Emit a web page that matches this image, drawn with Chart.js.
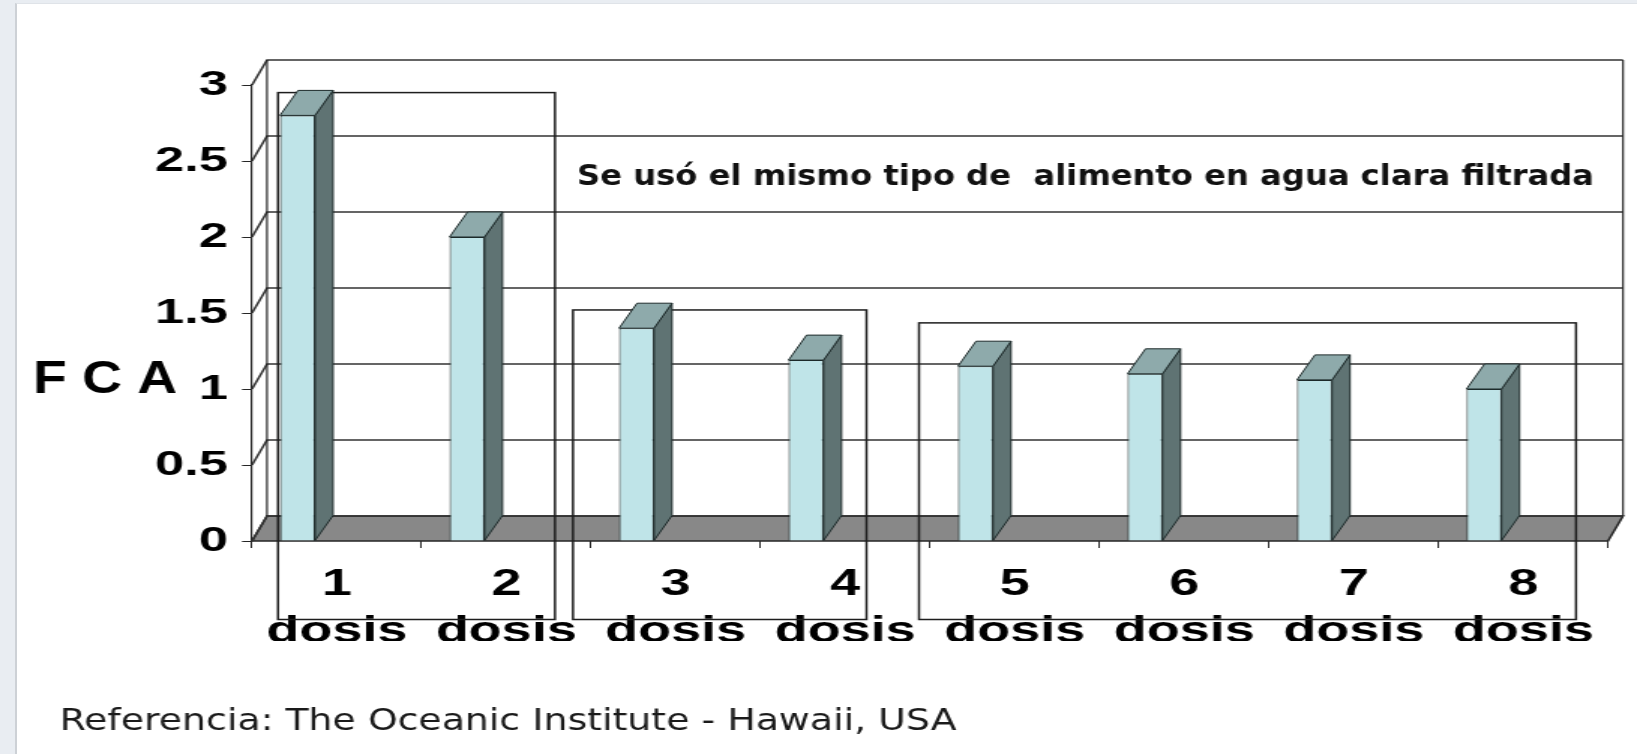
<!DOCTYPE html>
<html>
<head>
<meta charset="utf-8">
<script src="https://cdn.jsdelivr.net/npm/chart.js@4/dist/chart.umd.min.js"></script>
<style>
  html, body { margin:0; padding:0; }
  body { width:1637px; height:754px; overflow:hidden; background:#e9edf2; position:relative; }
  #panel { position:absolute; left:15px; top:3px; width:1622px; height:751px; background:#ffffff;
           border-left:2px solid #cdd1d6; border-top:1px solid #dfe3e8; box-sizing:border-box; }
  #wrap { position:absolute; left:0; top:0; width:1091px; height:754px;
          transform:scaleX(1.5004583); transform-origin:0 0; }
  #c { display:block; }
</style>
</head>
<body>
<div id="panel"></div>
<div id="wrap"><canvas id="c" width="1091" height="754"></canvas></div>
<script>
// ---- data ----
const categories = ['1', '2', '3', '4', '5', '6', '7', '8'];
const categoryUnit = 'dosis';
const fcaValues = [2.8, 2.0, 1.4, 1.19, 1.15, 1.1, 1.06, 1.0];
const yTickLabels = ['0', '0.5', '1', '1.5', '2', '2.5', '3'];
const yAxisTitle = 'F C A';
const noteText = 'Se usó el mismo tipo de  alimento en agua clara filtrada';
const sourceText = 'Referencia: The Oceanic Institute - Hawaii, USA';
// groups of doses framed in the picture
const groupFirst = [0, 2, 4];
const groupLast = [1, 3, 7];
const groupTop = [2.95, 1.52, 1.435];

// ---- geometry helpers (canvas is stretched horizontally by K) ----
const K = 1637 / 1091;
const WALL_DX = 15 / K, WALL_DY = -25;
const BAR_DX = 18 / K, BAR_DY = -25;
const LINE = '#262626';

function fitText(ctx, text, font, leftFull, baseline, widthFull, color) {
  ctx.save();
  ctx.font = font;
  const w = ctx.measureText(text).width;
  const s = widthFull / w;
  ctx.translate(leftFull / K, baseline);
  ctx.scale(s / K, 1);
  ctx.textAlign = 'left';
  ctx.textBaseline = 'alphabetic';
  ctx.fillStyle = color;
  ctx.fillText(text, 0, 0);
  ctx.restore();
}

const threeD = {
  id: 'threeD',
  beforeDatasetsDraw(chart) {
    const { ctx, chartArea: a, scales: { x, y } } = chart;
    ctx.save();
    // floor slab
    ctx.beginPath();
    ctx.moveTo(a.left, a.bottom);
    ctx.lineTo(a.right, a.bottom);
    ctx.lineTo(a.right + WALL_DX, a.bottom + WALL_DY);
    ctx.lineTo(a.left + WALL_DX, a.bottom + WALL_DY);
    ctx.closePath();
    ctx.fillStyle = '#888888';
    ctx.fill();
    ctx.strokeStyle = LINE;
    ctx.lineWidth = 1.6;
    ctx.stroke();
    // gridlines on side and back wall
    ctx.strokeStyle = '#333333';
    ctx.lineWidth = 1.6;
    y.ticks.forEach(t => {
      const py = y.getPixelForValue(t.value);
      ctx.beginPath();
      ctx.moveTo(a.left, py);
      ctx.lineTo(a.left + WALL_DX, py + WALL_DY);
      ctx.lineTo(a.right + WALL_DX, py + WALL_DY);
      ctx.stroke();
    });
    // back verticals
    const yt = y.getPixelForValue(y.max) + WALL_DY;
    const yb = a.bottom + WALL_DY;
    ctx.strokeStyle = LINE;
    ctx.lineWidth = 1.2;
    [a.left + WALL_DX, a.right + WALL_DX].forEach(px => {
      ctx.beginPath(); ctx.moveTo(px, yt); ctx.lineTo(px, yb); ctx.stroke();
    });
    // group frames (behind the bars)
    const padL = [58.75, 102.75, 95.75];
    const padR = [48.75, 21.25, 52.75];
    ctx.strokeStyle = '#1e1e1e';
    ctx.lineWidth = 1.5;
    for (let g = 0; g < groupFirst.length; g++) {
      const l = x.getPixelForValue(groupFirst[g]) - padL[g] / K;
      const r = x.getPixelForValue(groupLast[g]) + padR[g] / K;
      const t = y.getPixelForValue(groupTop[g]);
      const b = a.bottom + 78.5;
      ctx.strokeRect(l, t, r - l, b - t);
    }
    ctx.restore();
  },
  afterDatasetsDraw(chart) {
    const { ctx } = chart;
    const meta = chart.getDatasetMeta(0);
    ctx.save();
    ctx.strokeStyle = '#1d2a2a';
    ctx.lineWidth = 1;
    meta.data.forEach(el => {
      const p = el.getProps(['x', 'y', 'base', 'width'], true);
      const xl = p.x - p.width / 2, xr = p.x + p.width / 2;
      // side face
      ctx.beginPath();
      ctx.moveTo(xr, p.y);
      ctx.lineTo(xr + BAR_DX, p.y + BAR_DY);
      ctx.lineTo(xr + BAR_DX, p.base + BAR_DY);
      ctx.lineTo(xr, p.base);
      ctx.closePath();
      ctx.fillStyle = '#5f7373';
      ctx.fill(); ctx.stroke();
      // top face
      ctx.beginPath();
      ctx.moveTo(xl, p.y);
      ctx.lineTo(xr, p.y);
      ctx.lineTo(xr + BAR_DX, p.y + BAR_DY);
      ctx.lineTo(xl + BAR_DX, p.y + BAR_DY);
      ctx.closePath();
      ctx.fillStyle = '#8eaaab';
      ctx.fill(); ctx.stroke();
    });
    ctx.restore();
  },
  afterDraw(chart) {
    const { ctx } = chart;
    fitText(ctx, yAxisTitle, 'bold 46px "Liberation Sans", Arial, sans-serif', 33, 393, 144, '#000');
    fitText(ctx, noteText, 'bold 29px "DejaVu Sans", sans-serif', 577, 185, 1017, '#111');
    fitText(ctx, sourceText, '31px "DejaVu Sans", sans-serif', 59.5, 730, 897, '#1a1a1a');
  }
};

const chartAreaLeft = 252 / K;
const chartAreaRight = 1608 / K;

new Chart(document.getElementById('c'), {
  type: 'bar',
  data: {
    labels: categories.map(c => [c, categoryUnit]),
    datasets: [
      {
        label: 'FCA',
        data: fcaValues,
        backgroundColor: '#bfe4e8',
        borderColor: '#1d2a2a',
        borderWidth: 1,
        categoryPercentage: 0.926,
        barPercentage: 0.446
      },
      {
        label: '',
        data: [null, null, null, null, null, null, null, null],
        backgroundColor: 'rgba(0,0,0,0)',
        categoryPercentage: 0.926,
        barPercentage: 0.446
      }
    ]
  },
  options: {
    responsive: false,
    animation: false,
    devicePixelRatio: 1,
    layout: { padding: { left: 0, top: 85, right: 1091 - chartAreaRight, bottom: 113 } },
    plugins: { legend: { display: false }, tooltip: { enabled: false }, title: { display: false } },
    scales: {
      x: {
        type: 'category',
        offset: true,
        grid: { display: true, offset: true, drawOnChartArea: false, drawTicks: true, tickLength: 7, color: '#262626', lineWidth: 1 },
        border: { display: false },
        ticks: {
          autoSkip: false, maxRotation: 0, minRotation: 0,
          color: '#000',
          padding: 13.5,
          font: { family: '"Liberation Sans", Arial, sans-serif', size: 36, weight: 'bold', lineHeight: 1.3 }
        },
        afterFit(scale) { scale.height = 100; }
      },
      y: {
        min: 0, max: 3,
        grid: { display: true, drawOnChartArea: false, drawTicks: true, tickLength: 10 / K, color: '#262626', lineWidth: 1 },
        border: { display: true, color: '#262626', width: 1.2 },
        ticks: {
          stepSize: 0.5,
          color: '#000',
          padding: 9.4,
          font: { family: '"Liberation Sans", Arial, sans-serif', size: 35, weight: 'bold' },
          callback: (v, i) => yTickLabels[i]
        },
        afterFit(scale) { scale.width = chartAreaLeft; }
      }
    }
  },
  plugins: [threeD]
});
</script>
</body>
</html>
